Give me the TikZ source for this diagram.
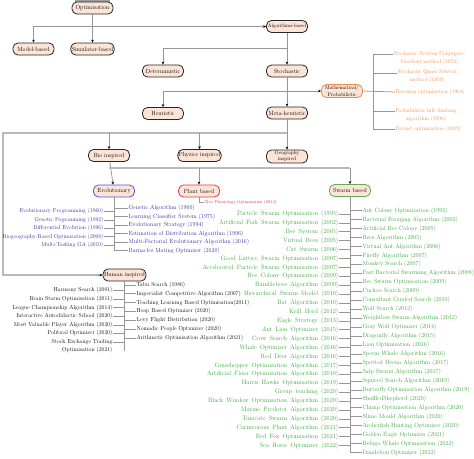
\documentclass[tikz,border=0pt]{standalone}
\usetikzlibrary{arrows.meta,calc}
\definecolor{peach}{RGB}{252,228,214}
\definecolor{lgr}{RGB}{150,150,150}
\definecolor{tgray}{RGB}{185,185,185}
\definecolor{orng}{RGB}{240,140,70}
\definecolor{blu}{RGB}{40,40,160}
\definecolor{grn}{RGB}{50,160,50}
\definecolor{rd}{RGB}{230,40,60}
\definecolor{bblue}{RGB}{90,80,230}
\definecolor{bred}{RGB}{230,60,70}
\definecolor{bgreen}{RGB}{100,170,90}
\newcommand{\greenspace}{\spaceskip=6.5pt plus 1pt minus 1pt\relax}
\begin{document}
\begin{tikzpicture}[x=2pt,y=-2pt,
  box/.style={draw=black!85,fill=peach,rounded corners=10pt,minimum width=82pt,minimum height=24pt,inner sep=2pt,line width=1.6pt,font=\fontsize{12}{13}\selectfont,align=center},
  ln/.style={draw=lgr,line width=1.5pt},
  thk/.style={draw=tgray,line width=3.6pt},
  ar/.style={ln,-{Stealth[length=6pt,width=5.2pt,color=black]}},
  tb/.style={inner sep=1pt,font=\fontsize{11.4}{16}\selectfont,text=blu},
  tk/.style={inner sep=1pt,font=\fontsize{11.6}{16}\selectfont,text=black,align=right},
  tgl/.style={inner sep=1pt,font={\fontsize{12.6}{16}\selectfont\greenspace},text=grn},
  tgr/.style={inner sep=1pt,font=\fontsize{12.2}{16}\selectfont,text=grn},
  tor/.style={inner sep=1pt,font=\fontsize{10.8}{16}\selectfont,text=orng,align=center},
  trd/.style={inner sep=1pt,font=\fontsize{8.4}{10}\selectfont,text=rd}
]
\useasboundingbox (0,0) rectangle (474,458);
\fill[gray!75] (75,0) rectangle (110,1.5);

% main tree nodes
\node[box] (opt) at (92.5,8) {Optimisation};
\node[box] (model) at (33.5,49) {Model-based};
\node[box] (sim) at (92.5,49) {Simulator-based};
\node[box,font=\fontsize{10}{12}\selectfont] (alg) at (287,26.5) {Algorithms-based};
\node[box] (det) at (163,71) {Deterministic};
\node[box] (sto) at (287,71) {Stochastic};
\node[box,draw=orng,font=\fontsize{10.4}{12.4}\selectfont,minimum height=26pt] (math) at (342,91) {Mathematical/\\Probabilistic};
\node[box] (heu) at (163,113.5) {Heuristic};
\node[box] (meta) at (287,113) {Meta-heuristic};
\node[box] (bio) at (109,155.5) {Bio inspired};
\node[box] (phy) at (199.5,155.5) {Physics inspired};
\node[box,font=\fontsize{10.4}{12.4}\selectfont,minimum height=26pt] (geo) at (287,156.5) {Geography\\inspired};
\node[box,draw=bblue] (evo) at (114,191) {Evolutionary};
\node[box,draw=bred] (plant) at (199,191) {Plant based};
\node[box,draw=bgreen] (swarm) at (350,190.5) {Swarm based};
\node[box] (hum) at (124.5,275) {Human inspired};

% connectors of the main tree
\draw[ar] (opt) -- (sim);
\draw[ar] (opt.south) |- (alg.west);
\coordinate (j0) at (opt.south |- alg.west);
\draw[ar] (j0) -| (model.north);
\draw[ar] (alg) -- (sto);
\coordinate (j1) at (287,48);
\draw[ar] (j1) -| (det.north);
\draw[ar] (sto) -- (meta);
\coordinate (j2) at (287,91);
\draw[ar] (j2) -| (heu.north);
\draw[ar] (j2) -- (math.west);
\draw[ar] (meta) -- (geo);
\coordinate (j3) at (287,133);
\coordinate (c1) at (3,133);
\coordinate (c2) at (3,275);
\draw[thk] (j3) -- (c1) -- (c2) -- ([xshift=-3pt]hum.west);
\draw[ar] (c2 -| hum.west) ++(-6,0) -- (hum.west);
\draw[ar] (bio.north |- c1) -- (bio.north);
\draw[ar] (phy.north |- c1) -- (phy.north);
\coordinate (j4) at (bio.south |- 0,168);
\draw[ar] (bio) -- (evo);
\draw[thk] (j4) -- (j4 -| swarm.north);
\draw[ar] (j4 -| swarm.north) -- (swarm.north);
\draw[ar] (plant.north |- j4) -- (plant.north);

% plant based
\node[trd,anchor=west] (tree) at (204,202) {Tree Physiology Optimisation (2013)};
\draw[ln] (plant.south) |- (tree.west);

% mathematical / probabilistic
\node[tor,anchor=west] (o1) at (393,58) {Stochastic Newton Conjugate-\\Gradient method (1952)};
\node[tor,anchor=west] (o2) at (397,76.5) {Stochastic Quasi-Newton\\method (1959)};
\node[tor,anchor=west] (o3) at (395,92) {Bayesian optimization (1964)};
\node[tor,anchor=west] (o4) at (395,115) {Probabilistic hill-climbing\\algorithm (1996)};
\node[tor,anchor=west] (o5) at (395,129) {Robust optimization (2009)};
\coordinate (ot1) at (373,54);
\coordinate (ot2) at (373,73);
\coordinate (ot4) at (373,111);
\coordinate (ot5) at (373,129);
\draw[ln] (ot1) -- (ot5);
\draw[ln] (math.east) -- (o3.west);
\draw[ln] (ot1) -- (o1.west |- ot1);
\draw[ln] (ot2) -- (o2.west |- ot2);
\draw[ln] (ot4) -- (o4.west |- ot4);
\draw[ln] (ot5) -- (o5.west);

% evolutionary
\foreach \t [count=\i] in {Evolutionary Programming (1960),Genetic Pogramming (1992),Differential Evolution (1996),Biogeography-Based Optimisation (2008),Multi-Tasking GA (2019)}{
  \node[tb,anchor=east] (bl\i) at (104,{211.5+(\i-1)*8.4}) {\t};
  \draw[ln] (bl\i.east) -- (bl\i.east -| evo.south);
}
\foreach \t [count=\i] in {Genetic Algorithm (1960),Learning Classifier System (1975),Evolutionary Strategy (1994),Estimation of Distribution Algorithm (1996),Multi-Factorial Evolutionary Algorithm (2016),Barnacles Mating Optimizer (2020)}{
  \node[tb,anchor=west,font=\fontsize{12}{16}\selectfont] (br\i) at (128,{208.3+(\i-1)*8.5}) {\t};
  \draw[ln] (br\i.west -| evo.south) -- (br\i.west);
}
\draw[ln] (evo.south) -- (evo.south |- br6.west);

% human inspired
\foreach \t [count=\i] in {Harmony Search (2001),Brain Storm Optimisation (2011),League Championship Algorithm (2014),Interactive Autodidactic School (2020),Most Valuable Player Algorithm (2020),Political Optimizer (2020)}{
  \node[tk,anchor=east] (hl\i) at (113,{290.5+(\i-1)*8.6}) {\t};
  \draw[ln] (hl\i.east) -- (hl\i.east -| hum.south);
}
\node[tk,anchor=east] (hl7) at (113,346.5) {Stock Exchange Trading\\Optimisation (2021)};
\coordinate (hs7) at (113,342.5);
\coordinate (hend) at (124.5,351);
\draw[ln] (hs7) -- (hs7 -| hum.south);
\foreach \t [count=\i] in {Tabu Search (1986),Imperialist Competitive Algorithm (2007),Teaching Learning Based Optimisation(2011),Heap Based Optimizer (2020),Levy Flight Distribution (2020),Nomadic People Optimizer (2020),Arithmetic Optimisation Algorithm (2021)}{
  \node[tk,anchor=west] (hr\i) at (136,{285+(\i-1)*8.83}) {\t};
  \draw[ln] (hr\i.west -| hum.south) -- (hr\i.west);
}
\draw[ln] (hum.south) -- (hend);

% swarm based
\foreach \t [count=\i] in {Particle Swarm Optimisation (1995),Artificial Fish Swarm Optimisation (2002),Bee System (2005),Virtual Bees (2005),Cat Swarm (2006),Good Lattice Swarm Optimisation (2007),Accelerated Particle Swarm Optimisation (2007),Bee Colony Optimisation (2009),Bumblebees Algorithm (2009),Hierarchical Swarm Model (2010),Bat Algorithm (2010),Krill Herd (2012),Eagle Strategy (2013),Ant Lion Optimizer (2015),Crow Search Algorithm (2016),Whale Optimizer Algorithm (2016),Red Deer Algorithm (2016),Grasshopper Optimisation Algorithm (2017),Artificial Flora Optimisation Algorithm (2018),Harris Hawks Optimisation (2019),Group teaching (2020),Black Window Optimisation Algorithm (2020),Marine Predator Algorithm (2020),Tunicate Swarm Algorithm (2020),Carnivorous Plant Algorithm (2021),Red Fox Optimisation (2021),Sea Horse Optimizer (2022)}{
  \node[tgl,anchor=east] (gl\i) at (339,{214+(\i-1)*8.91}) {\t};
  \draw[ln] (gl\i.east) -- (gl\i.east -| swarm.south);
}
\foreach \t [count=\i] in {Ant Colony Optimisation (1992),Bacterial Foraging Algorithm (2002),Artificial Bee Colony (2005),Bees Algorithm (2005),Virtual Ant Algorithm (2006),Firefly Algorithm (2007),Monkey Search (2007),Fast Bacterial Swarming Algorithm (2008),Bee Swarm Optimisation (2009),Cuckoo Search (2009),Consultant Guided Search (2010),Wolf Search (2012),Weightless Swarm Algorithm (2012),Gray Wolf Optimizer (2014),Dragonfly Algorithm (2015),Lion Optimisation (2016),Sperm Whale Algorithm (2016),Spotted Hyena Algorithm (2017),Salp Swarm Algorithm (2017),Squirrel Search Algorithm (2019),Butterfly Optimisation Algorithm (2019),ShuffledShepherd (2020),Chimp Optimisation Algorithm (2020),Slime Mould Algorithm (2020),Archerfish Hunting Optimizer (2020),Golden Eagle Optimizer (2021),Beluga Whale Optimisation (2022),Dandelion Optimizer (2022)}{
  \node[tgr,anchor=west] (gr\i) at (362,{210.7+(\i-1)*8.96}) {\t};
  \draw[ln] (gr\i.west -| swarm.south) -- (gr\i.west);
}
\draw[ln] (swarm.south) -- (swarm.south |- gr28.west);
\end{tikzpicture}
\end{document}
